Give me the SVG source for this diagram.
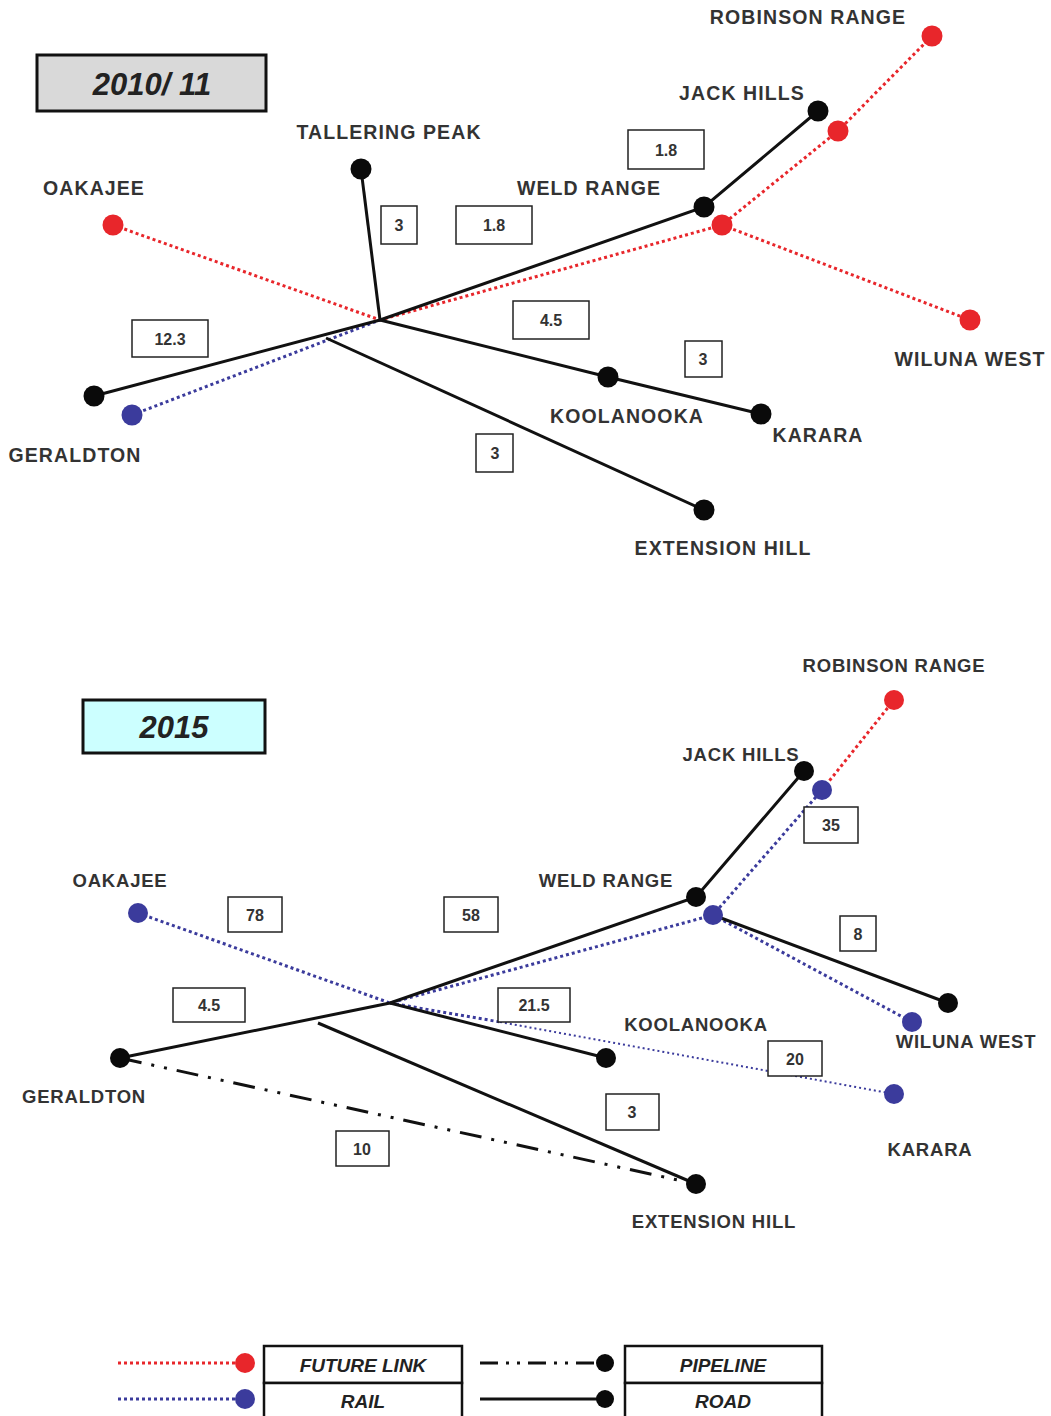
<svg xmlns="http://www.w3.org/2000/svg" width="1051" height="1416" viewBox="0 0 1051 1416">
<style>
.lbl{font-family:"Liberation Sans",Arial,sans-serif;font-weight:bold;font-size:19.5px;fill:#333;text-anchor:middle;letter-spacing:1.1px}
.lbl2{font-family:"Liberation Sans",Arial,sans-serif;font-weight:bold;font-size:18.5px;fill:#333;text-anchor:middle;letter-spacing:0.8px}
.num{font-family:"Liberation Sans",Arial,sans-serif;font-weight:bold;font-size:16px;fill:#333;text-anchor:middle}
.box{fill:#fff;stroke:#222;stroke-width:1.5}
.road{stroke:#111;stroke-width:3;fill:none}
.fut{stroke:#e8262b;stroke-width:3;stroke-dasharray:3 3;fill:none}
.rail{stroke:#3b3b9c;stroke-width:3;stroke-dasharray:3 3;fill:none}
.railt{stroke:#3b3b9c;stroke-width:2;stroke-dasharray:2 3;fill:none}
.pipe{stroke:#111;stroke-width:3;stroke-dasharray:22 10 3 10 3 10;fill:none}
.dk{fill:#0a0a0a}
.dr{fill:#e8262b}
.db{fill:#3b3b9c}
.ttl{font-family:"Liberation Sans",Arial,sans-serif;font-weight:bold;font-style:italic;font-size:31px;fill:#222;text-anchor:middle}
.leg{font-family:"Liberation Sans",Arial,sans-serif;font-weight:bold;font-style:italic;font-size:19px;fill:#222;text-anchor:middle}
</style>
<rect width="1051" height="1416" fill="#fff"/>

<!-- ===== 2010/11 ===== -->
<g id="title-2010">
<rect x="37" y="55" width="229" height="56" fill="#d9d9d9" stroke="#111" stroke-width="3"/>
<text class="ttl" x="152" y="95">2010/ 11</text>
</g>
<g id="connectors-2010">
<path class="fut" d="M113,225 L380,320 L722,225 L838,131 L932,36"/>
<path class="fut" d="M722,225 L970,320"/>
<path class="rail" d="M132,415 L380,320"/>
<path class="road" d="M361,169 L380,320"/>
<path class="road" d="M94,396 L380,320 L704,207 L818,111"/>
<path class="road" d="M380,320 L608,377 L761,414"/>
<path class="road" d="M326,338 L704,510"/>
</g>
<g id="n-robinson-2010"><circle class="dr" cx="932" cy="36" r="10.5"/><text class="lbl" x="808" y="24">ROBINSON RANGE</text></g>
<g id="n-jackhills-2010"><circle class="dk" cx="818" cy="111" r="10.5"/><circle class="dr" cx="838" cy="131" r="10.5"/><text class="lbl" x="742" y="100">JACK HILLS</text></g>
<g id="n-tallering-2010"><circle class="dk" cx="361" cy="169" r="10.5"/><text class="lbl" x="389" y="139">TALLERING PEAK</text></g>
<g id="n-oakajee-2010"><circle class="dr" cx="113" cy="225" r="10.5"/><text class="lbl" x="94" y="195">OAKAJEE</text></g>
<g id="n-weld-2010"><circle class="dk" cx="704" cy="207" r="10.5"/><circle class="dr" cx="722" cy="225" r="10.5"/><text class="lbl" x="589" y="195">WELD RANGE</text></g>
<g id="n-wiluna-2010"><circle class="dr" cx="970" cy="320" r="10.5"/><text class="lbl" x="970" y="366">WILUNA WEST</text></g>
<g id="n-koolanooka-2010"><circle class="dk" cx="608" cy="377" r="10.5"/><text class="lbl" x="627" y="423">KOOLANOOKA</text></g>
<g id="n-karara-2010"><circle class="dk" cx="761" cy="414" r="10.5"/><text class="lbl" x="818" y="442">KARARA</text></g>
<g id="n-geraldton-2010"><circle class="dk" cx="94" cy="396" r="10.5"/><circle class="db" cx="132" cy="415" r="10.5"/><text class="lbl" x="75" y="462">GERALDTON</text></g>
<g id="n-extension-2010"><circle class="dk" cx="704" cy="510" r="10.5"/><text class="lbl" x="723" y="555">EXTENSION HILL</text></g>
<g id="labels-2010">
<rect class="box" x="628" y="130" width="76" height="39"/><text class="num" x="666" y="156">1.8</text>
<rect class="box" x="381" y="206" width="36" height="38"/><text class="num" x="399" y="231">3</text>
<rect class="box" x="456" y="206" width="76" height="38"/><text class="num" x="494" y="231">1.8</text>
<rect class="box" x="132" y="320" width="76" height="37"/><text class="num" x="170" y="345">12.3</text>
<rect class="box" x="513" y="301" width="76" height="38"/><text class="num" x="551" y="326">4.5</text>
<rect class="box" x="685" y="341" width="37" height="36"/><text class="num" x="703" y="365">3</text>
<rect class="box" x="476" y="434" width="37" height="38"/><text class="num" x="495" y="459">3</text>
</g>

<!-- ===== 2015 ===== -->
<g id="title-2015">
<rect x="83" y="700" width="182" height="53" fill="#ccffff" stroke="#111" stroke-width="3"/>
<text class="ttl" x="174" y="738">2015</text>
</g>
<g id="connectors-2015">
<path class="fut" d="M822,790 L894,700"/>
<path class="rail" d="M138,913 L390,1003 L713,915 L822,790"/>
<path class="rail" d="M713,915 L912,1022"/>
<path class="rail" d="M390,1003 L500,1022"/>
<path class="railt" d="M500,1022 L894,1094"/>
<path class="pipe" d="M120,1058 L696,1184"/>
<path class="road" d="M120,1058 L390,1003 L696,897 L804,771"/>
<path class="road" d="M390,1003 L606,1058"/>
<path class="road" d="M318,1023 L696,1184"/>
<path class="road" d="M713,915 L948,1003"/>
</g>
<g id="n-robinson-2015"><circle class="dr" cx="894" cy="700" r="10"/><text class="lbl2" x="894" y="672">ROBINSON RANGE</text></g>
<g id="n-jackhills-2015"><circle class="dk" cx="804" cy="771" r="10"/><circle class="db" cx="822" cy="790" r="10"/><text class="lbl2" x="741" y="761">JACK HILLS</text></g>
<g id="n-oakajee-2015"><circle class="db" cx="138" cy="913" r="10"/><text class="lbl2" x="120" y="887">OAKAJEE</text></g>
<g id="n-weld-2015"><circle class="dk" cx="696" cy="897" r="10"/><circle class="db" cx="713" cy="915" r="10"/><text class="lbl2" x="606" y="887">WELD RANGE</text></g>
<g id="n-koolanooka-2015"><circle class="dk" cx="606" cy="1058" r="10"/><text class="lbl2" x="696" y="1031">KOOLANOOKA</text></g>
<g id="n-wiluna-2015"><circle class="dk" cx="948" cy="1003" r="10"/><circle class="db" cx="912" cy="1022" r="10"/><text class="lbl2" x="966" y="1048">WILUNA WEST</text></g>
<g id="n-geraldton-2015"><circle class="dk" cx="120" cy="1058" r="10"/><text class="lbl2" x="84" y="1103">GERALDTON</text></g>
<g id="n-karara-2015"><circle class="db" cx="894" cy="1094" r="10"/><text class="lbl2" x="930" y="1156">KARARA</text></g>
<g id="n-extension-2015"><circle class="dk" cx="696" cy="1184" r="10"/><text class="lbl2" x="714" y="1228">EXTENSION HILL</text></g>
<g id="labels-2015">
<rect class="box" x="228" y="897" width="54" height="35"/><text class="num" x="255" y="921">78</text>
<rect class="box" x="444" y="897" width="54" height="35"/><text class="num" x="471" y="921">58</text>
<rect class="box" x="804" y="807" width="54" height="36"/><text class="num" x="831" y="831">35</text>
<rect class="box" x="840" y="916" width="36" height="35"/><text class="num" x="858" y="940">8</text>
<rect class="box" x="173" y="988" width="72" height="34"/><text class="num" x="209" y="1011">4.5</text>
<rect class="box" x="498" y="988" width="72" height="34"/><text class="num" x="534" y="1011">21.5</text>
<rect class="box" x="768" y="1041" width="54" height="35"/><text class="num" x="795" y="1065">20</text>
<rect class="box" x="606" y="1094" width="53" height="36"/><text class="num" x="632" y="1118">3</text>
<rect class="box" x="336" y="1131" width="53" height="35"/><text class="num" x="362" y="1155">10</text>
</g>

<!-- ===== Legend ===== -->
<g id="legend">
<line class="fut" x1="118" y1="1363" x2="238" y2="1363" stroke-width="2"/>
<circle class="dr" cx="245" cy="1363" r="10"/>
<line class="rail" x1="118" y1="1399" x2="238" y2="1399" stroke-width="2"/>
<circle class="db" cx="245" cy="1399" r="10"/>
<rect x="264" y="1346" width="198" height="37" fill="#fff" stroke="#111" stroke-width="2.5"/>
<rect x="264" y="1383" width="198" height="40" fill="#fff" stroke="#111" stroke-width="2.5"/>
<text class="leg" x="363" y="1372">FUTURE LINK</text>
<text class="leg" x="363" y="1408">RAIL</text>
<line class="pipe" x1="480" y1="1363" x2="598" y2="1363" style="stroke-dasharray:18 8 3 8 3 8"/>
<circle class="dk" cx="605" cy="1363" r="9"/>
<line class="road" x1="480" y1="1399" x2="598" y2="1399"/>
<circle class="dk" cx="605" cy="1399" r="9"/>
<rect x="625" y="1346" width="197" height="37" fill="#fff" stroke="#111" stroke-width="2.5"/>
<rect x="625" y="1383" width="197" height="40" fill="#fff" stroke="#111" stroke-width="2.5"/>
<text class="leg" x="723" y="1372">PIPELINE</text>
<text class="leg" x="723" y="1408">ROAD</text>
</g>
</svg>
